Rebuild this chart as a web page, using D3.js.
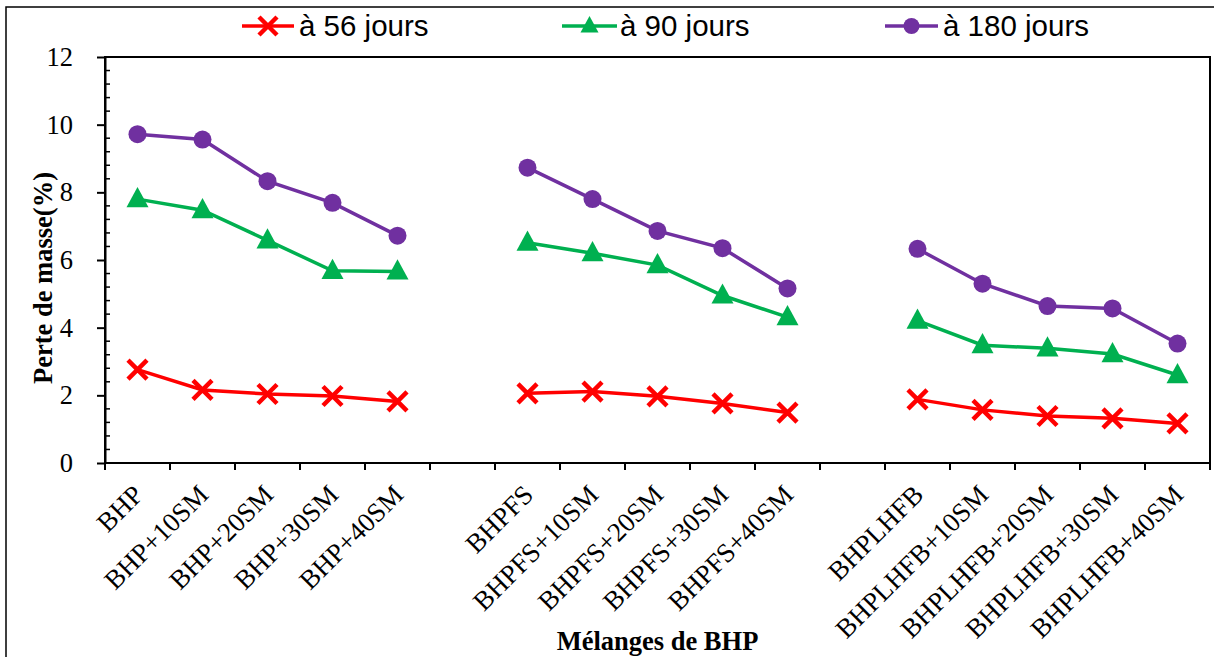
<!DOCTYPE html>
<html>
<head>
<meta charset="utf-8">
<script src="https://cdnjs.cloudflare.com/ajax/libs/d3/7.8.5/d3.min.js"></script>
<style>
  html, body { margin: 0; padding: 0; background: #fff; }
  svg { display: block; }
</style>
</head>
<body>
<svg id="chart" width="1214" height="657"></svg>
<script>
// Mixtures along the x axis; empty strings leave a gap between families
const categories = [
  "BHP", "BHP+10SM", "BHP+20SM", "BHP+30SM", "BHP+40SM", "",
  "BHPFS", "BHPFS+10SM", "BHPFS+20SM", "BHPFS+30SM", "BHPFS+40SM", "",
  "BHPLHFB", "BHPLHFB+10SM", "BHPLHFB+20SM", "BHPLHFB+30SM", "BHPLHFB+40SM"
];

// Mass loss (%) per age
const loss56 = [2.76, 2.16, 2.04, 1.98, 1.82, null,
                2.06, 2.11, 1.97, 1.76, 1.49, null,
                1.88, 1.57, 1.39, 1.32, 1.17];
const loss90 = [7.80, 7.47, 6.58, 5.68, 5.66, null,
                6.51, 6.20, 5.85, 4.95, 4.31, null,
                4.21, 3.48, 3.39, 3.22, 2.60];
const loss180 = [9.72, 9.56, 8.33, 7.69, 6.72, null,
                 8.73, 7.80, 6.86, 6.35, 5.16, null,
                 6.33, 5.30, 4.64, 4.57, 3.53];

const seriesNames = ["à 56 jours", "à 90 jours", "à 180 jours"];
const yTicks = [0, 2, 4, 6, 8, 10, 12];

const series = [
  { name: seriesNames[0], values: loss56, color: "#FF0000", marker: "cross" },
  { name: seriesNames[1], values: loss90, color: "#00B050", marker: "triangle" },
  { name: seriesNames[2], values: loss180, color: "#7030A0", marker: "circle" }
];

const svg = d3.select("#chart");
const W = 1214, H = 657;
const plot = { left: 105, right: 1210, top: 57, bottom: 463 };
const serif = "'Liberation Serif', 'Times New Roman', serif";

// Outer figure frame
svg.append("rect")
  .attr("x", 6).attr("y", 7)
  .attr("width", W + 10).attr("height", H + 10)
  .attr("fill", "none").attr("stroke", "#000").attr("stroke-width", 1.5);

const x = d3.scaleBand()
  .domain(d3.range(categories.length))
  .range([plot.left, plot.right])
  .padding(0);

const y = d3.scaleLinear()
  .domain([0, 12])
  .range([plot.bottom, plot.top]);

// Plot area frame
svg.append("rect")
  .attr("x", plot.left).attr("y", plot.top)
  .attr("width", plot.right - plot.left).attr("height", plot.bottom - plot.top)
  .attr("fill", "none").attr("stroke", "#000").attr("stroke-width", 2);

// Y axis: major ticks outside with labels
const yAxis = svg.append("g")
  .attr("transform", `translate(${plot.left},0)`)
  .call(d3.axisLeft(y).tickValues(yTicks).tickSize(8).tickSizeOuter(0).tickPadding(24));
yAxis.select(".domain").attr("stroke", "#000").attr("stroke-width", 2);
yAxis.selectAll(".tick line").attr("stroke", "#000").attr("stroke-width", 2);
yAxis.selectAll(".tick text")
  .attr("font-family", serif)
  .attr("font-size", 26.5).attr("fill", "#000");

// Y axis: minor ticks inside every 0.4
const minor = d3.range(0, 12.001, 0.4).filter(v => Math.abs(v / 2 - Math.round(v / 2)) > 1e-6);
svg.append("g").selectAll("line").data(minor).join("line")
  .attr("x1", plot.left).attr("x2", plot.left + 5)
  .attr("y1", d => y(d)).attr("y2", d => y(d))
  .attr("stroke", "#000").attr("stroke-width", 1.5);

// X axis: ticks at category boundaries
const xBounds = d3.range(categories.length + 1).map(i => plot.left + i * x.bandwidth());
svg.append("g").selectAll("line").data(xBounds).join("line")
  .attr("x1", d => d).attr("x2", d => d)
  .attr("y1", plot.bottom).attr("y2", plot.bottom + 7)
  .attr("stroke", "#000").attr("stroke-width", 2);

// X tick labels, rotated
svg.append("g").selectAll("text")
  .data(categories.map((c, i) => ({ c, i })).filter(d => d.c !== ""))
  .join("text")
  .attr("transform", d => `translate(${x(d.i) + x.bandwidth() / 2 - 6},${plot.bottom + 20}) rotate(-45)`)
  .attr("text-anchor", "end")
  .attr("dy", "0.7em")
  .attr("font-family", serif)
  .attr("font-size", 27)
  .attr("fill", "#000")
  .text(d => d.c);

// Axis titles
svg.append("text")
  .attr("transform", `translate(52,278) rotate(-90)`)
  .attr("text-anchor", "middle")
  .attr("font-family", serif)
  .attr("font-weight", "bold").attr("font-size", 26.5)
  .text("Perte de masse(%)");

svg.append("text")
  .attr("x", (plot.left + plot.right) / 2).attr("y", 650)
  .attr("text-anchor", "middle")
  .attr("font-family", serif)
  .attr("font-weight", "bold").attr("font-size", 26.5)
  .text("Mélanges de BHP");

// Marker drawing
function drawMarker(g, type, color, size) {
  if (type === "circle") {
    g.append("circle").attr("r", size / 2).attr("fill", color);
  } else if (type === "triangle") {
    const h = size * 0.92, w = size;
    g.append("path")
      .attr("d", `M0,${-h * 0.6}L${w / 2},${h * 0.4}L${-w / 2},${h * 0.4}Z`)
      .attr("fill", color);
  } else {
    const s = size / 2;
    g.append("path")
      .attr("d", `M${-s},${-s}L${s},${s}M${-s},${s}L${s},${-s}`)
      .attr("stroke", color).attr("stroke-width", 4.5).attr("fill", "none");
  }
}

const line = d3.line()
  .defined(d => d.v != null)
  .x(d => x(d.i) + x.bandwidth() / 2)
  .y(d => y(d.v));

const markerSize = { circle: 18, triangle: 22, cross: 19 };

series.forEach(s => {
  const pts = s.values.map((v, i) => ({ v, i }));
  svg.append("path")
    .datum(pts)
    .attr("d", line)
    .attr("fill", "none")
    .attr("stroke", s.color)
    .attr("stroke-width", 3.5);
  pts.filter(d => d.v != null).forEach(d => {
    const g = svg.append("g")
      .attr("transform", `translate(${x(d.i) + x.bandwidth() / 2},${y(d.v)})`);
    drawMarker(g, s.marker, s.color, markerSize[s.marker]);
  });
});

// Legend
const legendItems = [
  { s: series[0], x0: 242, x1: 294, tx: 299 },
  { s: series[1], x0: 562, x1: 617, tx: 620 },
  { s: series[2], x0: 885, x1: 938, tx: 943 }
];
const ly = 26;
legendItems.forEach(it => {
  svg.append("line")
    .attr("x1", it.x0).attr("x2", it.x1)
    .attr("y1", ly).attr("y2", ly)
    .attr("stroke", it.s.color).attr("stroke-width", 3.5);
  const g = svg.append("g").attr("transform", `translate(${(it.x0 + it.x1) / 2},${ly})`);
  drawMarker(g, it.s.marker, it.s.color, it.s.marker === "circle" ? 16 : 18);
  svg.append("text")
    .attr("x", it.tx).attr("y", ly + 10)
    .attr("font-family", "'Liberation Sans', Arial, sans-serif")
    .attr("font-size", 29.5)
    .attr("fill", "#000")
    .text(it.s.name);
});
</script>
</body>
</html>
